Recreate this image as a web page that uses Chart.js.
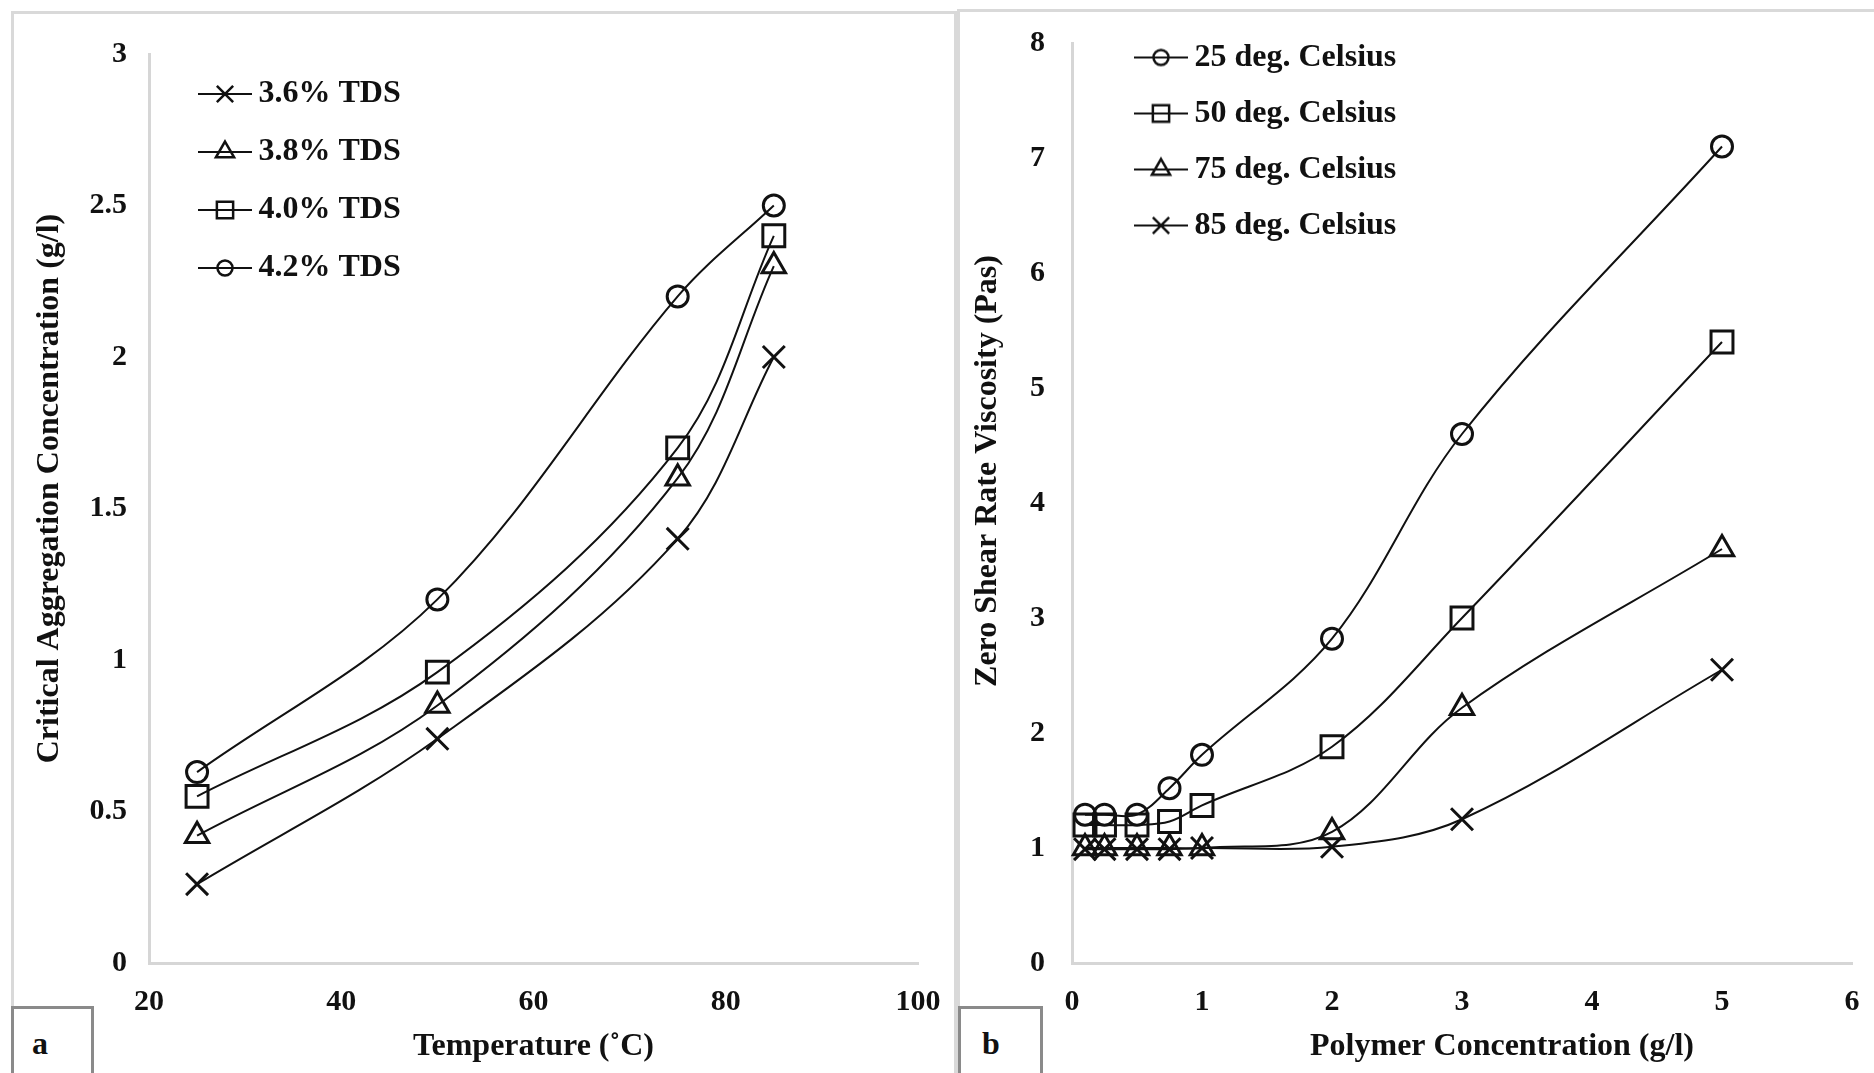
<!DOCTYPE html>
<html>
<head>
<meta charset="utf-8">
<script src="https://cdn.jsdelivr.net/npm/chart.js@4.4.1/dist/chart.umd.min.js"></script>
<style>
  html, body { margin: 0; padding: 0; background: #fff; overflow: hidden; width: 1874px; height: 1073px; }
  .panel { position: absolute; border: 3px solid #d9d9d9; box-sizing: border-box; }
  #panelA { left: 11px; top: 11px; width: 946px; height: 1100px; }
  #panelB { left: 957px; top: 9px; width: 940px; height: 1100px; }
  .wrap { position: absolute; top: 0; height: 1073px; }
  #wrapA { left: 0; width: 960px; }
  #wrapB { left: 960px; width: 914px; }
  .tag { position: absolute; top: 1006px; height: 100px; border: 3px solid #8a8a8a; background: #fff;
         font: bold 32px "Liberation Serif"; color: #111; box-sizing: border-box; padding-top: 16px; }
  #tagA { left: 11px; width: 83px; padding-left: 18px; }
  #tagB { left: 958px; width: 85px; padding-left: 21px; }
</style>
</head>
<body>
<div class="panel" id="panelA"></div>
<div class="panel" id="panelB"></div>
<div class="wrap" id="wrapA"><canvas id="chartA"></canvas></div>
<div class="wrap" id="wrapB"><canvas id="chartB"></canvas></div>
<div class="tag" id="tagA">a</div>
<div class="tag" id="tagB">b</div>

<script>
// Two Excel-style panels: (a) critical aggregation concentration vs temperature,
// (b) zero shear rate viscosity vs polymer concentration.

const FONT = "Liberation Serif";
const INK = "#111";
const AXIS = "#d6d6d6";

// (a) values
const temperatureC = [25, 50, 75, 85];
const cacTds36 = [0.26, 0.74, 1.4, 2.0];
const cacTds38 = [0.42, 0.85, 1.6, 2.3];
const cacTds40 = [0.55, 0.96, 1.7, 2.4];
const cacTds42 = [0.63, 1.2, 2.2, 2.5];
const tdsLabels = ["3.6% TDS", "3.8% TDS", "4.0% TDS", "4.2% TDS"];
const tdsMarkers = ["crossRot", "triangle", "rect", "circle"];

// (b)
const polymerConc = [0.1, 0.25, 0.5, 0.75, 1, 2, 3, 5];
const visc25 = [1.29, 1.29, 1.29, 1.52, 1.81, 2.82, 4.6, 7.1];
const visc50 = [1.2, 1.2, 1.2, 1.23, 1.37, 1.88, 3.0, 5.4];
const visc75 = [1.0, 1.0, 1.0, 1.0, 1.0, 1.14, 2.22, 3.6];
const visc85 = [0.99, 0.99, 0.99, 0.99, 1.0, 1.01, 1.25, 2.55];
const viscLabels = ["25 deg. Celsius", "50 deg. Celsius", "75 deg. Celsius", "85 deg. Celsius"];
const viscMarkers = ["circle", "rect", "triangle", "crossRot"];

const markerRadius = { circle: 10.5, rect: 15.5, triangle: 13.5, crossRot: 15.5 };
const legendRadius = { circle: 7.5, rect: 11.5, triangle: 10.5, crossRot: 11.5 };

// Legend swatch: short line with the marker on it, like Excel.
function legendIcon(style) {
  const c = document.createElement("canvas");
  c.width = 54; c.height = 28;
  const ctx = c.getContext("2d");
  ctx.strokeStyle = INK;
  ctx.lineWidth = 2;
  ctx.beginPath(); ctx.moveTo(0, 14); ctx.lineTo(54, 14); ctx.stroke();
  ctx.fillStyle = "rgba(0,0,0,0)";
  ctx.lineWidth = 2.5;
  Chart.helpers.drawPoint(ctx, { pointStyle: style, radius: legendRadius[style], borderWidth: 2.5, rotation: 0 }, 27, 14);
  return c;
}

function series(xs, ys, label, style) {
  return {
    label,
    data: xs.map((x, i) => ({ x, y: ys[i] })),
    borderColor: INK,
    borderWidth: 2,
    tension: 0.35,
    pointStyle: style,
    pointRadius: markerRadius[style],
    pointHoverRadius: markerRadius[style],
    pointBorderWidth: 3,
    pointBorderColor: INK,
    pointBackgroundColor: "rgba(0,0,0,0)",
    clip: false,
  };
}

// Put the legend at a fixed spot inside the plot area.
const legendPlacer = {
  id: "legendPlacer",
  afterLayout(chart, args, opts) {
    const lg = chart.legend;
    if (!lg) return;
    const h = lg.height;
    lg.left = opts.left; lg.top = opts.top;
    lg.right = opts.left + lg.width; lg.bottom = opts.top + h;
  },
};

const tickFont = { family: FONT, size: 30, weight: "bold" };
const titleFont = { family: FONT, size: 32, weight: "bold" };

function makeChart(id, W, H, cfg) {
  const icons = cfg.markers.map(legendIcon);
  return new Chart(document.getElementById(id), {
    type: "line",
    data: { datasets: cfg.ys.map((ys, i) => series(cfg.xs, ys, cfg.labels[i], cfg.markers[i])) },
    plugins: [legendPlacer],
    options: {
      responsive: true,
      maintainAspectRatio: false,
      animation: false,
      events: [],
      layout: { autoPadding: false, padding: { left: 0, top: cfg.area.top, right: W - cfg.area.right, bottom: 0 } },
      plugins: {
        tooltip: { enabled: false },
        legendPlacer: cfg.legend,
        legend: {
          position: "chartArea",
          align: "start",
          labels: {
            usePointStyle: true,
            pointStyleWidth: 35,
            padding: cfg.legend.gap,
            color: INK,
            font: { family: FONT, size: 32, weight: "bold" },
            generateLabels(chart) {
              const items = Chart.defaults.plugins.legend.labels.generateLabels(chart);
              items.forEach((it, i) => { it.pointStyle = icons[i]; });
              return items;
            },
          },
        },
      },
      scales: {
        x: {
          type: "linear",
          min: cfg.x.min, max: cfg.x.max,
          afterFit: (s) => { s.height = H - cfg.area.bottom; s.paddingLeft = 0; s.paddingRight = 0; },
          grid: { display: false, drawTicks: false },
          border: { color: AXIS, width: 3 },
          ticks: { stepSize: cfg.x.step, padding: 21, color: INK, font: tickFont, maxRotation: 0 },
          title: { display: true, text: cfg.x.title, color: INK, font: titleFont, padding: { top: 0, bottom: 7 } },
        },
        y: {
          min: cfg.y.min, max: cfg.y.max,
          afterFit: (s) => { s.width = cfg.area.left; s.paddingTop = 0; s.paddingBottom = 0; },
          grid: { display: false, drawTicks: false },
          border: { color: AXIS, width: 3 },
          ticks: { stepSize: cfg.y.step, padding: cfg.y.tickPad, color: INK, font: tickFont,
                   callback: (v) => String(+v.toFixed(2)) },
          title: { display: true, text: cfg.y.title, color: INK, font: titleFont, padding: { top: cfg.y.titlePad, bottom: 0 } },
        },
      },
    },
  });
}

makeChart("chartA", 960, 1073, {
  xs: temperatureC,
  ys: [cacTds36, cacTds38, cacTds40, cacTds42],
  labels: tdsLabels,
  markers: tdsMarkers,
  area: { left: 149, top: 54, right: 918, bottom: 963 },
  legend: { left: 181.5, top: 52, gap: 26 },
  x: { min: 20, max: 100, step: 20, title: "Temperature (˚C)" },
  y: { min: 0, max: 3, step: 0.5, tickPad: 22, titlePad: 31,
       title: "     Critical Aggregation Concentration (g/l)" },
});

makeChart("chartB", 914, 1073, {
  xs: polymerConc,
  ys: [visc25, visc50, visc75, visc85],
  labels: viscLabels,
  markers: viscMarkers,
  area: { left: 112, top: 43, right: 892, bottom: 963 },
  legend: { left: 159.5, top: 17.5, gap: 24 },
  x: { min: 0, max: 6, step: 1, title: "          Polymer Concentration (g/l)" },
  y: { min: 0, max: 8, step: 1, tickPad: 27, titlePad: 9,
       title: "        Zero Shear Rate Viscosity (Pas)" },
});
</script>
</body>
</html>
